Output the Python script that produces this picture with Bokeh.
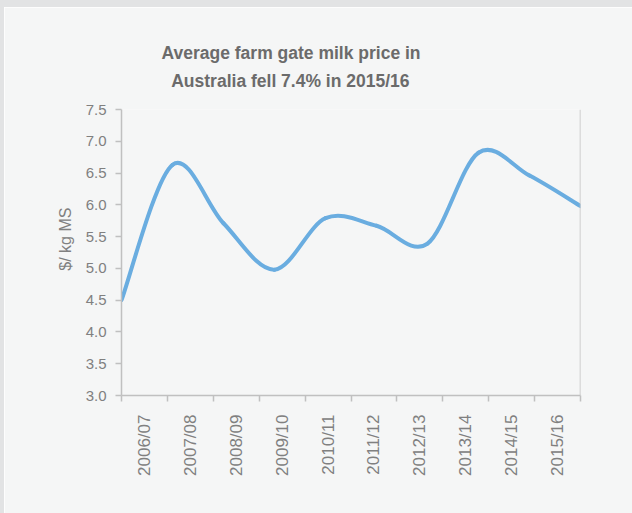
import math
from bokeh.plotting import figure
from bokeh.models import (Range1d, FixedTicker, Span, Title, Spacer,
                          CustomJSTickFormatter, PrintfTickFormatter)
from bokeh.layouts import row, column
from bokeh.embed import file_html
from bokeh.resources import INLINE

# ---- data ----
seasons = ["2006/07", "2007/08", "2008/09", "2009/10", "2010/11",
           "2011/12", "2012/13", "2013/14", "2014/15", "2015/16"]
prices = [4.50, 6.63, 5.71, 4.98, 5.79, 5.67, 5.39, 6.82, 6.46, 5.98]
y_ticks = [3.0, 3.5, 4.0, 4.5, 5.0, 5.5, 6.0, 6.5, 7.0, 7.5]
title_line1 = "Average farm gate milk price in"
title_line2 = "Australia fell 7.4% in 2015/16"
y_label = "$/ kg MS"

PANEL = "#f5f6f6"
OUTER = "#e2e3e4"
AXIS = "#c0c0c0"
TXT = "#808080"
LINE = "#6aade0"
FONT = "Liberation Sans"

n = len(seasons)
p = figure(width=628, height=506, output_backend="svg", toolbar_location=None,
           x_range=Range1d(0, n), y_range=Range1d(y_ticks[0], y_ticks[-1]),
           min_border_left=117, min_border_right=52, min_border_top=102,
           min_border_bottom=118, title=None)
p.extra_x_ranges = {"line": Range1d(0, n - 1)}

p.background_fill_color = PANEL
p.border_fill_color = PANEL
p.outline_line_color = None
p.grid.visible = False

# smooth line (Catmull-Rom -> cubic bezier) through the data points
xs = list(range(n))
x0, y0, x1, y1, cx0, cy0, cx1, cy1 = ([] for _ in range(8))
for i in range(n - 1):
    im = max(i - 1, 0)
    ip = min(i + 2, n - 1)
    x0.append(xs[i]); y0.append(prices[i])
    x1.append(xs[i + 1]); y1.append(prices[i + 1])
    cx0.append(xs[i] + (xs[i + 1] - xs[im]) / 6)
    cy0.append(prices[i] + (prices[i + 1] - prices[im]) / 6)
    cx1.append(xs[i + 1] - (xs[ip] - xs[i]) / 6)
    cy1.append(prices[i + 1] - (prices[ip] - prices[i]) / 6)
p.bezier(x0=x0, y0=y0, x1=x1, y1=y1, cx0=cx0, cy0=cy0, cx1=cx1, cy1=cy1,
         line_color=LINE, line_width=4, line_cap="round", x_range_name="line")

# right border line
p.add_layout(Span(location=n, dimension="height", line_color=AXIS, line_width=1.5))

# x axis: ticks at category boundaries, labels at category centres
xa = p.xaxis[0]
xa.ticker = FixedTicker(ticks=[i + 0.5 for i in range(n)],
                        minor_ticks=list(range(n + 1)))
xa.formatter = CustomJSTickFormatter(args=dict(labels=seasons),
                                     code="return labels[Math.floor(tick)] || ''")
xa.major_label_orientation = math.pi / 2
xa.major_tick_out = 0
xa.major_tick_in = 0
xa.minor_tick_out = 6
xa.minor_tick_in = 0
xa.major_label_standoff = 13
xa.major_label_text_font = FONT
xa.major_label_text_font_size = "17px"
xa.major_label_text_color = TXT
for ax in (xa, p.yaxis[0]):
    ax.axis_line_color = AXIS
    ax.axis_line_width = 1.5
    ax.major_tick_line_color = AXIS
    ax.minor_tick_line_color = AXIS
    ax.major_tick_line_width = 1.5
    ax.minor_tick_line_width = 1.5

ya = p.yaxis[0]
ya.ticker = FixedTicker(ticks=y_ticks, minor_ticks=[])
ya.formatter = PrintfTickFormatter(format="%.1f")
ya.major_tick_out = 6
ya.major_tick_in = 0
ya.minor_tick_out = 0
ya.major_label_standoff = 9
ya.major_label_text_font = FONT
ya.major_label_text_font_size = "15px"
ya.major_label_text_color = TXT
ya.axis_label = "\u00a0" * 6 + y_label
ya.axis_label_text_font = FONT
ya.axis_label_text_font_size = "16px"
ya.axis_label_text_font_style = "normal"
ya.axis_label_text_color = TXT
ya.axis_label_standoff = 9

# two-line title
p.add_layout(Title(text=title_line1 + "\n" + "\u00a0\u00a0" + title_line2,
                   align="left", offset=40, text_font=FONT,
                   text_font_size="17.5px", text_font_style="bold",
                   text_line_height=1.4,
                   text_color="#6b6b6b", standoff=38), "above")

left_bar = Spacer(width=4, height=513, styles={"background-color": OUTER})
top_bar = Spacer(width=628, height=7, styles={"background-color": OUTER})
layout = row(left_bar, column(top_bar, p))

open("out.html", "w").write(file_html(layout, INLINE))
